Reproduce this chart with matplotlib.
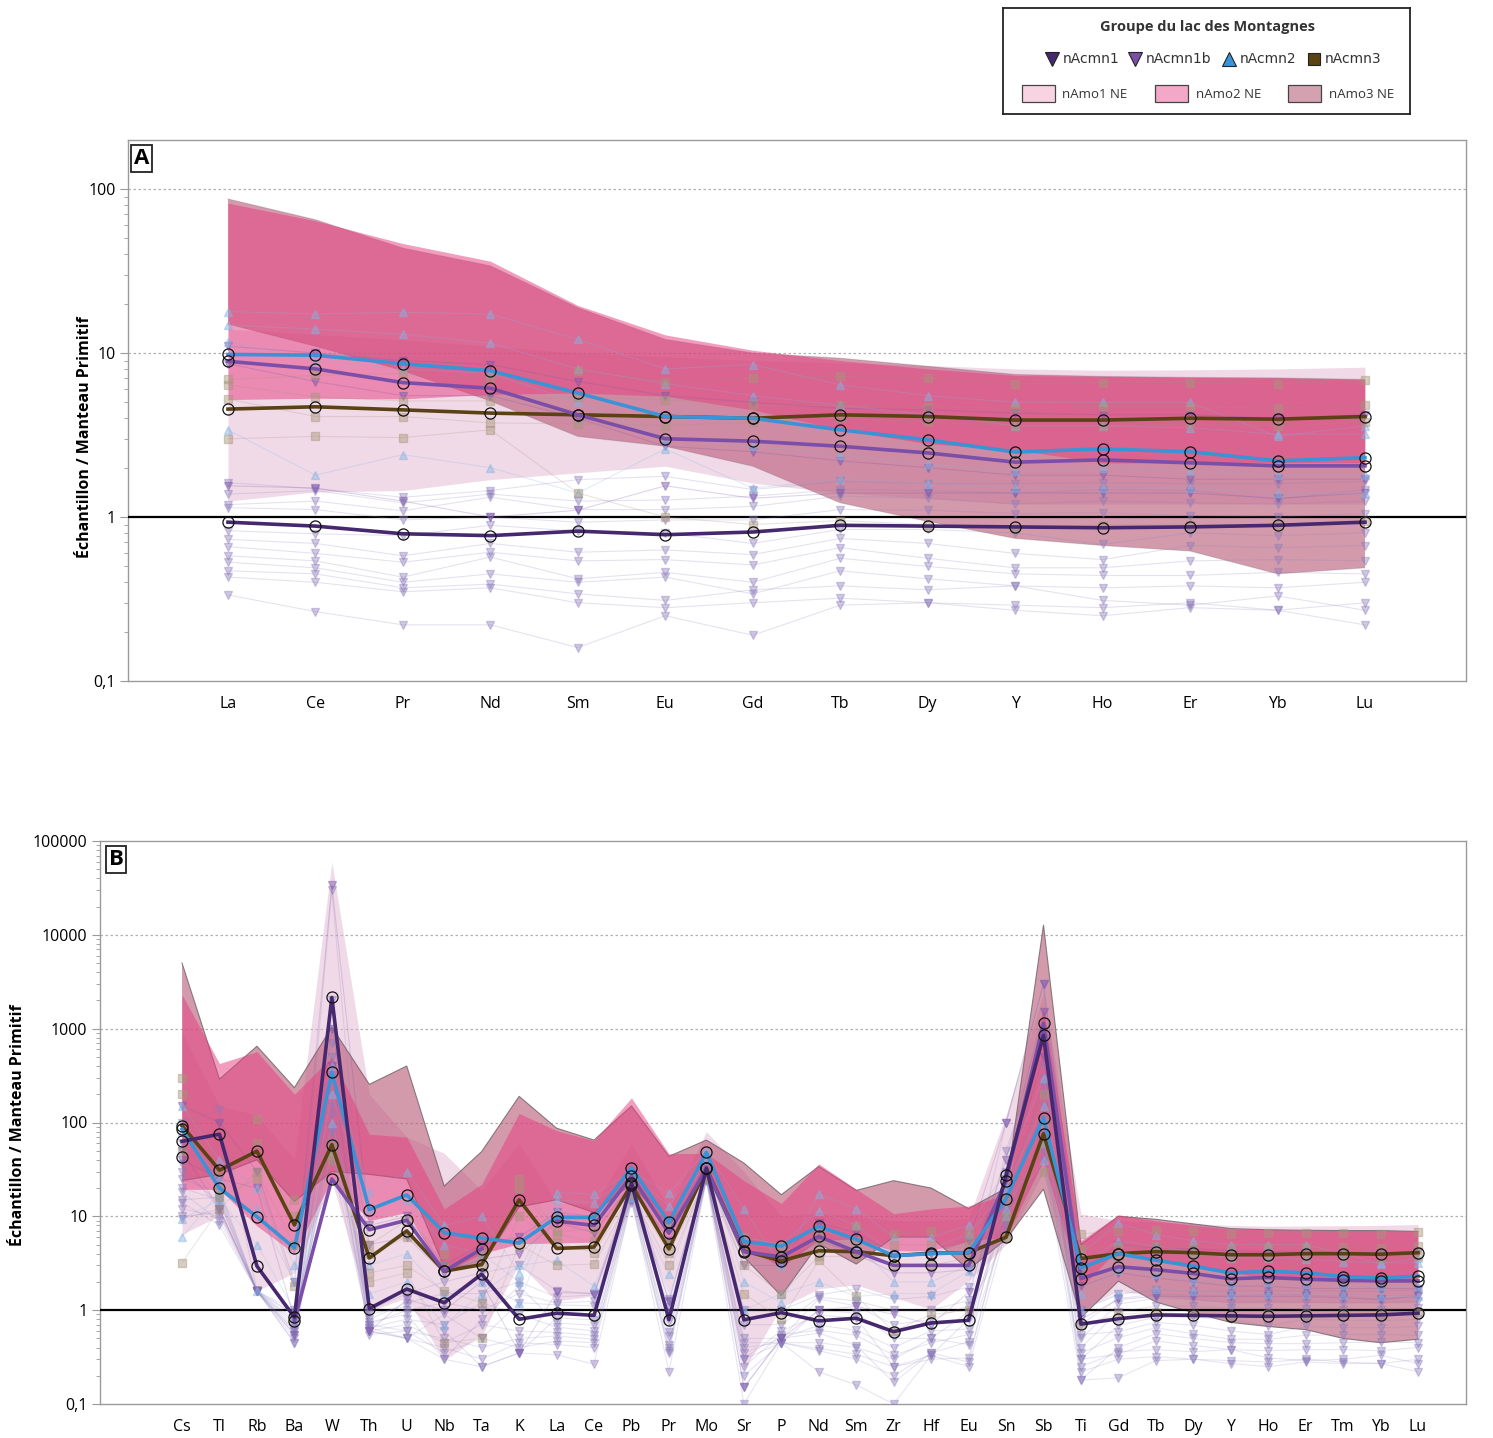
import numpy as np
import matplotlib
matplotlib.use("Agg")
import matplotlib.pyplot as plt
from matplotlib.ticker import FixedLocator, FuncFormatter, NullFormatter
from matplotlib.patches import Rectangle

nan = np.nan

# ---------------------------------------------------------------- categories
ree = ["La", "Ce", "Pr", "Nd", "Sm", "Eu", "Gd", "Tb", "Dy", "Y", "Ho", "Er", "Yb", "Lu"]
spider = ["Cs", "Tl", "Rb", "Ba", "W", "Th", "U", "Nb", "Ta", "K", "La", "Ce", "Pb", "Pr",
          "Mo", "Sr", "P", "Nd", "Sm", "Zr", "Hf", "Eu", "Sn", "Sb", "Ti", "Gd", "Tb", "Dy",
          "Y", "Ho", "Er", "Tm", "Yb", "Lu"]
# elements of the multi-element diagram that are not in the REE list
extra = ["Cs", "Tl", "Rb", "Ba", "W", "Th", "U", "Nb", "Ta", "K", "Pb", "Mo", "Sr", "P",
         "Zr", "Hf", "Sn", "Sb", "Ti", "Tm"]

# ---------------------------------------------------------------- group averages (REE)
nacmn1_ree = [0.93, 0.88, 0.79, 0.77, 0.82, 0.78, 0.81, 0.89, 0.88, 0.87, 0.86, 0.87, 0.89, 0.93]
nacmn1b_ree = [8.9, 8.0, 6.6, 6.1, 4.2, 3.0, 2.9, 2.7, 2.46, 2.16, 2.23, 2.14, 2.05, 2.05]
nacmn2_ree = [9.8, 9.7, 8.6, 7.8, 5.7, 4.1, 4.0, 3.4, 2.95, 2.49, 2.6, 2.5, 2.2, 2.3]
nacmn3_ree = [4.55, 4.7, 4.5, 4.3, 4.2, 4.1, 4.0, 4.2, 4.1, 3.9, 3.9, 4.0, 3.95, 4.1]

# group averages, other elements (order of `extra`)
nacmn1_ext = [63, 75, 2.95, 0.84, 2150, 1.04, 1.68, 1.2, 2.42, 0.8, 22.4, 32.5, 0.79, 0.94,
              0.59, 0.73, 27.5, 846, 0.71, 0.88]
nacmn1b_ext = [43, nan, nan, 0.77, 25, 7.2, 9.1, 2.6, 4.5, nan, 27, 32.5, 4.2, 3.7,
               3.0, 3.0, 24, 1140, 2.17, 2.08]
nacmn2_ext = [85, 20, 9.9, 4.6, 343, 11.8, 16.9, 6.7, 5.85, 5.2, 33, 48, 5.4, 4.8,
              3.8, 4.0, 15.4, 113, 2.82, 2.28]
nacmn3_ext = [92, 31, 49.5, 8.1, 58, 3.6, 7.0, 2.6, 3.06, 15, 21.8, 32.5, 4.3, 3.35,
              3.8, 4.05, 6.0, 76, 3.55, 4.0]

# ---------------------------------------------------------------- reference envelopes
namo1_hi_ree = [14, 13, 12, 11, 10, 9.5, 9, 8.7, 8.4, 8.0, 7.85, 7.9, 8.0, 8.2]
namo1_lo_ree = [1.25, 1.42, 1.45, 1.69, 1.86, 2.04, 1.61, 1.4, 1.3, 1.2, 1.2, 1.2, 1.2, 1.2]
namo2_hi_ree = [82, 64, 46.5, 36.3, 19.5, 12.9, 10.4, 9.0, 8.0, 7.3, 7.2, 7.1, 7.05, 6.9]
namo2_lo_ree = [5.2, 5.3, 5.25, 5.6, 5.7, 5.45, 4.5, 3.4, 2.8, 2.57, 2.14, 2.14, 2.14, 2.14]
namo3_hi_ree = [87, 65, 43.6, 34, 18.9, 12.1, 10.0, 9.3, 8.3, 7.4, 7.2, 7.1, 7.05, 6.9]
namo3_lo_ree = [15, 11, 7.8, 5.1, 3.1, 2.7, 2.04, 1.22, 0.94, 0.74, 0.67, 0.62, 0.45, 0.49]

namo1_hi_ext = [900, 150, 120, 40, 60000, 200, 70, 47, 19, 60, 60, 80, 30, 10,
                9, 9, 120, 2400, 10.6, 7.95]
namo1_lo_ext = [6.4, 10.2, 1.6, 2.5, 24, 0.97, 1.35, 0.29, 0.55, 3.1, 15, 26, 0.23, 1.07,
                1.37, 1.02, 5, 30, 1.0, 1.2]
namo2_hi_ext = [2300, 425, 570, 200, 500, 75, 70, 12, 22, 125, 183, 47, 24, 13.7,
                10.7, 12, 17, 1700, 5.5, 7.05]
namo2_lo_ext = [19.4, 19.4, 7.9, 4.0, 25, 9, 11, 2.5, 4.0, 5.1, 20, 30, 4.7, 2.9,
                4.3, 4.3, 6, 39, 1.75, 2.14]
namo3_hi_ext = [5000, 290, 650, 235, 1040, 255, 400, 21, 49, 190, 150, 65, 37, 17,
                24, 20, 20, 12700, 5.0, 7.05]
namo3_lo_ext = [24, 28, 40, 14.4, 30, 28, 25, 2.9, 3.0, 12.6, 22, 30, 3.7, 1.42,
                6.0, 6.0, 5.7, 19.5, 0.83, 0.5]

# ---------------------------------------------------------------- individual samples
nacmn1_samples_ree = [
    [1.62, 1.49, 1.32, 1.45, 1.69, 1.77, 1.47, 1.65, 1.6, 1.6, 1.62, 1.6, 1.6, 1.65],
    [1.38, 1.45, 1.22, 1.38, 1.25, 1.27, 1.34, 1.47, 1.45, 1.4, 1.47, 1.45, 1.28, 1.47],
    [1.19, 1.25, 1.09, 1.32, 1.11, 1.11, 1.16, 1.34, 1.3, 1.2, 1.25, 1.22, 1.2, 1.25],
    [1.14, 1.11, 0.96, 1.0, 0.93, 0.96, 0.96, 1.11, 1.1, 1.05, 1.06, 1.02, 1.0, 1.05],
    [0.825, 0.79, 0.77, 0.89, 0.82, 0.8, 0.69, 0.84, 0.84, 0.8, 0.68, 0.8, 0.77, 0.8],
    [0.73, 0.69, 0.58, 0.69, 0.61, 0.63, 0.59, 0.74, 0.69, 0.6, 0.55, 0.67, 0.65, 0.67],
    [0.66, 0.6, 0.53, 0.61, 0.54, 0.55, 0.51, 0.65, 0.56, 0.49, 0.49, 0.54, 0.55, 0.54],
    [0.58, 0.54, 0.43, 0.57, 0.42, 0.46, 0.4, 0.56, 0.5, 0.45, 0.44, 0.44, 0.46, 0.45],
    [0.53, 0.49, 0.4, 0.45, 0.4, 0.43, 0.34, 0.47, 0.42, 0.38, 0.37, 0.38, 0.37, 0.4],
    [0.47, 0.45, 0.37, 0.39, 0.34, 0.31, 0.36, 0.38, 0.36, 0.38, 0.31, 0.29, 0.33, 0.27],
    [0.43, 0.4, 0.35, 0.37, 0.3, 0.28, 0.3, 0.32, 0.3, 0.29, 0.28, 0.3, 0.27, 0.3],
    [0.335, 0.265, 0.22, 0.22, 0.16, 0.25, 0.19, 0.29, 0.3, 0.27, 0.25, 0.28, 0.27, 0.22],
]
nacmn1_samples_ext = [
    [100, 135, 1.6, 1.0, 30000, 1.0, 1.5, 2.0, 2.5, 3.0, 25, 30, 1.0, 1.0, 1.3, 1.4, 100, 3000, 1.0, 1.6],
    [60, 20, 1.6, 0.8, 2000, 0.8, 1.2, 1.5, 1.5, 2.0, 20, 28, 0.7, 0.7, 1.0, 1.0, 50, 800, 0.7, 1.4],
    [36, 12, 1.6, 0.7, 700, 0.7, 1.0, 1.2, 1.0, 1.5, 15, 25, 0.5, 0.5, 0.7, 0.8, 30, 400, 0.5, 1.2],
    [20, 15, 1.6, 0.6, 300, 0.6, 0.5, 0.9, 0.5, 1.2, 22, 30, 0.4, 0.45, 0.5, 0.5, 20, 200, 0.4, 1.0],
    [9.4, 12, 1.6, 0.45, 150, 0.9, 1.1, 0.6, 0.25, 0.35, 18, 28, 0.3, 0.6, 0.25, 0.33, 10, 50, 0.3, 0.78],
    [25, 18, 1.6, 0.75, 80, 0.75, 0.9, 0.3, 0.8, 1.8, 17, 26, 0.15, 0.5, 0.4, 0.6, 15, 100, 0.55, 0.65],
    [15, 16, 1.6, 0.9, 40, 0.65, 0.8, 0.7, 1.2, 0.9, 16, 25, 0.25, 0.55, 0.33, 0.45, 12, 150, 0.35, 0.55],
    [30, 14, 1.6, 0.55, 200, 0.6, 0.7, 0.45, 0.7, 0.6, 19, 27, 0.35, 0.5, 0.17, 0.35, 8, 300, 0.18, 0.45],
    [12, 10, 1.6, 0.65, 500, 0.7, 0.6, 0.5, 0.4, 0.5, 15, 26, 0.45, 0.45, 0.3, 0.5, 18, 250, 0.3, 0.38],
    [18, 9, 1.6, 0.5, 120, 0.55, 0.6, 0.35, 0.5, 0.4, 16, 25, 0.2, 0.45, 0.25, 0.3, 9, 80, 0.25, 0.3],
    [10, 11, 1.6, 0.6, 60, 0.65, 0.5, 0.4, 0.3, 0.45, 14, 25, 0.3, 0.45, 0.2, 0.35, 11, 60, 0.22, 0.28],
    [14, 8, 1.6, 0.45, 90, 0.6, 0.5, 0.3, 0.25, 0.35, 15, 24, 0.1, 0.45, 0.1, 0.33, 7, 40, 0.18, 0.27],
]
nacmn1b_samples_ree = [
    [11, 10, 9, 8.5, 6.7, 5.5, 5.0, 4.6, 4.5, 4.3, 4.2, 4.2, 4.0, 4.2],
    [8.6, 6.7, 5.5, 5.5, 4.0, 2.7, 2.5, 2.2, 2.0, 1.8, 1.8, 1.7, 1.7, 1.7],
    [1.55, 1.5, 1.25, 1.0, 1.1, 1.55, 1.3, 1.4, 1.4, 1.4, 1.4, 1.4, 1.3, 1.4],
]
nacmn1b_samples_ext = [
    [150, 100, 30, 2.0, 34000, 8, 10, 3, 5, 6, 25, 35, 5, 4, 4, 4, 100, 3000, 2.5, 4.1],
    [40, 25, 20, 0.8, 1000, 5, 6, 2.5, 3.5, 4, 22, 30, 3, 3, 2.5, 2.5, 40, 1500, 1.8, 1.7],
    [50, 12, 1.6, 0.55, 400, 0.6, 1.3, 1.0, 2.0, 0.35, 20, 30, 0.15, 0.5, 0.9, 0.7, 25, 500, 0.8, 1.35],
]
nacmn2_samples_ree = [
    [17.9, 17.3, 17.7, 17.3, 12.1, 8.0, 8.5, 6.4, 5.5, 5.0, 5.0, 5.0, 3.1, 3.6],
    [14.8, 14.0, 13.0, 11.5, 8.0, 6.5, 5.5, 4.8, 4.2, 3.6, 3.6, 3.5, 3.2, 3.2],
    [11.7, 9.0, 8.0, 7.5, 5.0, 3.0, 2.7, 2.4, 2.1, 1.9, 2.0, 1.9, 1.8, 1.8],
    [3.4, 1.8, 2.4, 2.0, 1.4, 2.6, 1.5, 1.7, 1.6, 1.5, 1.5, 1.5, 1.4, 1.4],
]
nacmn2_samples_ext = [
    [150, 40, 20, 3, 400, 18, 30, 8, 10, 2.5, 30, 50, 12, 3, 6, 6, 30, 300, 4, 4.0],
    [80, 25, 12, 2, 200, 12, 15, 5, 4, 2, 28, 45, 6, 5, 4, 4.5, 20, 150, 3, 3.3],
    [9.4, 15, 5, 1.0, 100, 3, 4, 1.5, 2, 1.2, 20, 40, 2, 1.2, 2, 2, 12, 60, 1.5, 1.85],
    [6, 18, 1.6, 0.9, 50, 1.5, 2, 0.7, 1.5, 3, 16, 30, 1.0, 1.5, 1.5, 1.5, 10, 40, 1.0, 1.45],
]
nacmn3_samples_ree = [
    [6.9, 7.3, 7.5, 7.0, 7.8, 6.7, 7.0, 7.2, 7.0, 6.5, 6.6, 6.6, 6.5, 6.8],
    [6.4, 5.4, 5.1, 5.1, 5.4, 5.2, 4.8, 4.8, 4.7, 4.6, 4.7, 4.7, 4.6, 4.8],
    [5.25, 4.1, 4.1, 3.75, 3.7, 3.6, 3.8, 4.0, 3.8, 3.6, 3.6, 3.7, 3.6, 3.8],
    [3.0, 3.1, 3.05, 3.4, 1.4, 1.0, 0.9, 0.95, 0.9, 0.85, 0.9, 0.9, 0.9, 0.95],
]
nacmn3_samples_ext = [
    [300, 30, 110, 15, 60, 5, 9, 4, 4, 25, 25, 30, 6, 5, 6.5, 7, 15, 200, 6.5, 6.6],
    [200, 20, 60, 10, 50, 4, 6, 3, 3, 20, 20, 28, 5, 4, 5, 5, 10, 100, 4.5, 4.7],
    [3.2, 12, 30, 5, 40, 2.5, 3, 1.6, 1.2, 10, 18, 25, 3, 1.5, 3, 3, 6, 60, 2.5, 3.7],
    [50, 16, 25, 1.8, 45, 2, 2.5, 0.45, 0.5, 5, 17, 26, 1.5, 0.8, 0.6, 0.9, 6, 30, 0.7, 0.9],
]

# ---------------------------------------------------------------- styles
C_N1, C_N1B, C_N2, C_N3 = "#46286f", "#7b4fa8", "#3b93d6", "#5a4214"
C_S1, C_S1B, C_S2, C_S3 = "#8c7cba", "#7d58ac", "#86b3e2", "#a8967c"
F_AMO1, F_AMO2, F_AMO3 = "#e1afcd", "#e63c7d", "#b75776"


def full_spider(ree_vals, ext_vals):
    d = dict(zip(ree, ree_vals))
    d.update(zip(extra, ext_vals))
    return np.array([d[e] for e in spider], dtype=float)


def tick_fmt(v, pos):
    if v >= 1:
        return f"{int(round(v))}"
    return f"{v:g}".replace(".", ",")


plt.rcParams["font.family"] = ["Open Sans", "DejaVu Sans"]
fig = plt.figure(figsize=(14.93, 14.38), dpi=100)
W, H = 1493.0, 1438.0

axA = fig.add_axes([128 / W, 1 - 681 / H, 1338 / W, 541 / H])
axB = fig.add_axes([100 / W, 1 - 1404 / H, 1366 / W, 563 / H])


def draw_panel(ax, labels, envelopes, means, samples, ylim, xlim, letter, letter_xy,
               edge_alpha):
    x = np.arange(len(labels))
    ax.set_yscale("log")
    ax.set_ylim(*ylim)
    ax.set_xlim(*xlim)

    # envelopes of the reference groups
    lo1, hi1 = envelopes["nAmo1"]
    lo2, hi2 = envelopes["nAmo2"]
    lo3, hi3 = envelopes["nAmo3"]
    ax.fill_between(x, lo1, hi1, color=F_AMO1, alpha=0.45, lw=0, zorder=1)
    ax.fill_between(x, lo3, hi3, facecolor=F_AMO3, alpha=0.6, lw=0, zorder=2)
    ax.plot(x, hi3, color="#6f6268", lw=0.8, alpha=edge_alpha, zorder=2.1)
    ax.plot(x, lo3, color="#6f6268", lw=0.8, alpha=edge_alpha, zorder=2.1)
    ax.fill_between(x, lo2, hi2, color=F_AMO2, alpha=0.5, lw=0, zorder=3)

    ax.axhline(1, color="black", lw=1.6, zorder=4)

    # individual samples
    for vals_list, col, mk, la, ma in samples:
        for vals in vals_list:
            ax.plot(x, vals, color=col, lw=0.8, alpha=la, zorder=5)
            ax.plot(x, vals, ls="none", marker=mk, ms=5.5, mfc=col, mec=col,
                    alpha=ma, zorder=5)

    # group averages
    for vals, col in means:
        ax.plot(x, vals, color=col, lw=2.6, zorder=6, solid_joinstyle="round")
        ax.plot(x, vals, ls="none", marker="o", ms=8, mfc="none", mec="#111111",
                mew=0.9, zorder=7)

    # axes decoration
    for sp in ax.spines.values():
        sp.set_color("#9a9a9a")
        sp.set_linewidth(1.0)
    ax.set_xticks(x)
    ax.set_xticklabels(labels, fontsize=11.5)
    ax.tick_params(axis="x", length=0, pad=11)

    lo_exp = int(round(np.log10(ylim[0])))
    hi_exp = int(np.floor(np.log10(ylim[1]) + 1e-9))
    majors = [10.0 ** k for k in range(lo_exp, hi_exp + 1)]
    minors = [m * 10.0 ** k for k in range(lo_exp, hi_exp + 1) for m in range(2, 10)
              if m * 10.0 ** k < ylim[1]]
    ax.yaxis.set_major_locator(FixedLocator(majors))
    ax.yaxis.set_minor_locator(FixedLocator(minors))
    ax.yaxis.set_major_formatter(FuncFormatter(tick_fmt))
    ax.yaxis.set_minor_formatter(NullFormatter())
    ax.tick_params(axis="y", which="major", length=6, color="#9a9a9a", labelsize=11.5, pad=3)
    ax.tick_params(axis="y", which="minor", length=3, color="#9a9a9a")
    for dec in majors:
        if 1 < dec < ylim[1] * 0.999:
            ax.axhline(dec, color="#b0b0b0", lw=0.9, ls=(0, (2, 2)), zorder=0.5)
    ax.text(letter_xy[0], letter_xy[1], letter, transform=ax.transAxes, fontsize=16,
            fontweight="bold", ha="left", va="top", zorder=10,
            bbox=dict(boxstyle="square,pad=0.12", fc="white", ec="#222222", lw=1.3))


samplesA = [
    (nacmn1_samples_ree, C_S1, "v", 0.22, 0.4),
    (nacmn1b_samples_ree, C_S1B, "v", 0.25, 0.45),
    (nacmn2_samples_ree, C_S2, "^", 0.25, 0.45),
    (nacmn3_samples_ree, C_S3, "s", 0.25, 0.45),
]
envA = {
    "nAmo1": (namo1_lo_ree, namo1_hi_ree),
    "nAmo2": (namo2_lo_ree, namo2_hi_ree),
    "nAmo3": (namo3_lo_ree, namo3_hi_ree),
}
meansA = [(nacmn3_ree, C_N3), (nacmn1b_ree, C_N1B), (nacmn2_ree, C_N2), (nacmn1_ree, C_N1)]
draw_panel(axA, ree, envA, meansA, samplesA, (0.1, 199), (-1.143, 14.155), "A",
           (0.0045, 0.985), 0.25)

samplesB = [
    ([full_spider(r, e) for r, e in zip(nacmn1_samples_ree, nacmn1_samples_ext)], C_S1, "v", 0.2, 0.4),
    ([full_spider(r, e) for r, e in zip(nacmn1b_samples_ree, nacmn1b_samples_ext)], C_S1B, "v", 0.22, 0.45),
    ([full_spider(r, e) for r, e in zip(nacmn2_samples_ree, nacmn2_samples_ext)], C_S2, "^", 0.22, 0.45),
    ([full_spider(r, e) for r, e in zip(nacmn3_samples_ree, nacmn3_samples_ext)], C_S3, "s", 0.22, 0.45),
]
envB = {
    "nAmo1": (full_spider(namo1_lo_ree, namo1_lo_ext), full_spider(namo1_hi_ree, namo1_hi_ext)),
    "nAmo2": (full_spider(namo2_lo_ree, namo2_lo_ext), full_spider(namo2_hi_ree, namo2_hi_ext)),
    "nAmo3": (full_spider(namo3_lo_ree, namo3_lo_ext), full_spider(namo3_hi_ree, namo3_hi_ext)),
}
meansB = [
    (full_spider(nacmn3_ree, nacmn3_ext), C_N3),
    (full_spider(nacmn1b_ree, nacmn1b_ext), C_N1B),
    (full_spider(nacmn2_ree, nacmn2_ext), C_N2),
    (full_spider(nacmn1_ree, nacmn1_ext), C_N1),
]
draw_panel(axB, spider, envB, meansB, samplesB, (0.1, 100000), (-2.19, 34.28), "B",
           (0.0065, 0.986), 0.8)

ylabel = "Échantillon / Manteau Primitif"
fig.text(85 / W, 1 - 437 / H, ylabel, rotation=90, ha="center", va="center",
         fontsize=11.5, fontweight="bold")
fig.text(18 / W, 1 - 1125 / H, ylabel, rotation=90, ha="center", va="center",
         fontsize=11.5, fontweight="bold")

# ---------------------------------------------------------------- legend box
lax = fig.add_axes([1003 / W, 1 - 114 / H, 407 / W, 106 / H])
lax.set_xlim(1003, 1410)
lax.set_ylim(114, 8)
lax.set_xticks([])
lax.set_yticks([])
for sp in lax.spines.values():
    sp.set_color("#222222")
    sp.set_linewidth(1.3)
lax.text(1207, 27, "Groupe du lac des Montagnes", ha="center", va="center",
         fontsize=10.5, fontweight="bold", color="#333333")
row1 = [("nAcmn1", C_N1, "v", 1052), ("nAcmn1b", C_N1B, "v", 1135),
        ("nAcmn2", C_N2, "^", 1229), ("nAcmn3", C_N3, "s", 1314)]
for lab, col, mk, xm in row1:
    lax.plot([xm], [59], marker=mk, ms=10 if mk != "s" else 9, mfc=col, mec="#222222",
             mew=0.8, ls="none")
    lax.text(xm + 11, 59, lab, ha="left", va="center", fontsize=10,
             family="DejaVu Sans", color="#333333")
row2 = [("nAmo1 NE", "#f8d4e3", 1022, 1062), ("nAmo2 NE", "#f4a8c7", 1155, 1196),
        ("nAmo3 NE", "#d4a1b1", 1288, 1329)]
for lab, col, xr, xt in row2:
    lax.add_patch(Rectangle((xr, 85), 33, 17, facecolor=col, edgecolor="#444444", lw=0.9))
    lax.text(xt, 94, lab, ha="left", va="center", fontsize=9.5, color="#333333")

fig.savefig("out.png", dpi=100)
